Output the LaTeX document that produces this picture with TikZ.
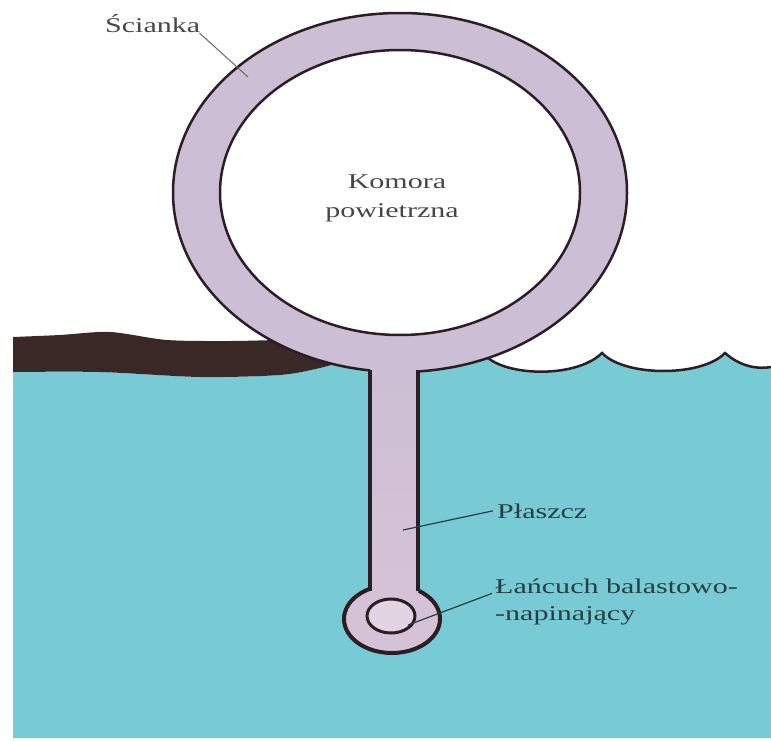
\documentclass[tikz,border=0pt]{standalone}
\usepackage{fontspec}
\setmainfont{Liberation Serif}
\usepackage{graphicx}

\definecolor{woda}{RGB}{120,202,212}
\definecolor{ropa}{RGB}{58,40,38}
\definecolor{scianka}{RGB}{204,190,212}
\definecolor{plaszcz}{RGB}{214,194,214}
\definecolor{krawedz}{RGB}{45,30,35}
\definecolor{tekst}{RGB}{70,70,70}
\definecolor{tekstwoda}{RGB}{40,62,68}

% napisy sa nieco rozciagniete w poziomie
\newcommand\szer[1]{\scalebox{1.43}[1]{#1}}

\begin{document}
\begin{tikzpicture}[x=1pt,y=-1pt,
		obrys/.style={draw=krawedz,line width=2.5pt},
		opis/.style={inner sep=0pt,font=\fontsize{21}{27}\selectfont,text=tekst},
		linia/.style={draw=tekst!80,line width=1pt}]
		\fill[white] (0,0) rectangle (771,741);
		\useasboundingbox (0,0) rectangle (771,741);

		% woda z falami
		\fill[woda] (13,738) -- plot[smooth] coordinates {(13,372) (100,372) (200,377) (280,375) (320,368) (340,362)}
			-- (488,358) .. controls (512,377) and (578,377) .. (602,353)
			.. controls (625,377) and (702,377) .. (725,353)
			.. controls (742,368) and (760,369) .. (771,367) -- (771,738) -- cycle;
		\draw[obrys] (488,358) .. controls (512,377) and (578,377) .. (602,353)
			.. controls (625,377) and (702,377) .. (725,353)
			.. controls (742,368) and (760,369) .. (771,367);

		% plama ropy
		\fill[ropa] plot[smooth] coordinates {(13,337) (60,335) (110,332) (167,340) (230,341) (275,340)}
			-- (345,345) -- plot[smooth] coordinates {(340,362) (320,368) (280,375) (200,377) (100,372) (13,372)} -- cycle;

		% komora
		\fill[scianka,even odd rule] (400,192.5) ellipse [x radius=227, y radius=179.5]
			(400,192.5) ellipse [x radius=180, y radius=142.5];
		\draw[obrys] (400,192.5) ellipse [x radius=227, y radius=179.5];
		\draw[obrys] (400,192.5) ellipse [x radius=180, y radius=142.5];

		% plaszcz i lancuch
		\filldraw[fill=plaszcz,draw=krawedz,line width=4pt] (392,619) ellipse [x radius=48, y radius=34];
		\shade[top color=scianka,bottom color=plaszcz] (370,362) rectangle (418,596);
		\draw[draw=krawedz,line width=3.5pt] (370,370) -- (370,591);
		\draw[draw=krawedz,line width=3.5pt] (418,370) -- (418,591);
		\filldraw[fill=plaszcz!70!white,draw=krawedz,line width=3pt] (391,616) ellipse [x radius=24, y radius=17];

		% opisy
		\node[opis,anchor=base west] (sc) at (105,33) {\szer{Ścianka}};
		\node[opis,anchor=base] (kom1) at (397,189) {\szer{Komora}};
		\node[opis,anchor=base] (kom2) at (392,217) {\szer{powietrzna}};
		\node[opis,anchor=base west,text=tekstwoda] (pl) at (497,518) {\szer{Płaszcz}};
		\node[opis,anchor=base west,text=tekstwoda] (lanc1) at (495,593) {\szer{Łańcuch balastowo-}};
		\node[opis,anchor=base west,text=tekstwoda] (lanc2) at (495,620) {\szer{-napinający}};

		\coordinate (scPt) at (248,77);
		\coordinate (plPt) at (403,530);
		\coordinate (lancPt) at (408,625);
		\draw[linia] ([xshift=-1pt]sc.base east) -- (scPt);
		\draw[draw=tekstwoda,line width=1.2pt] ([xshift=-4pt]pl.west) -- (plPt);
		\draw[draw=tekstwoda,line width=1.2pt] ([xshift=-3pt]lanc1.south west) -- (lancPt);
	\end{tikzpicture}
\end{document}
